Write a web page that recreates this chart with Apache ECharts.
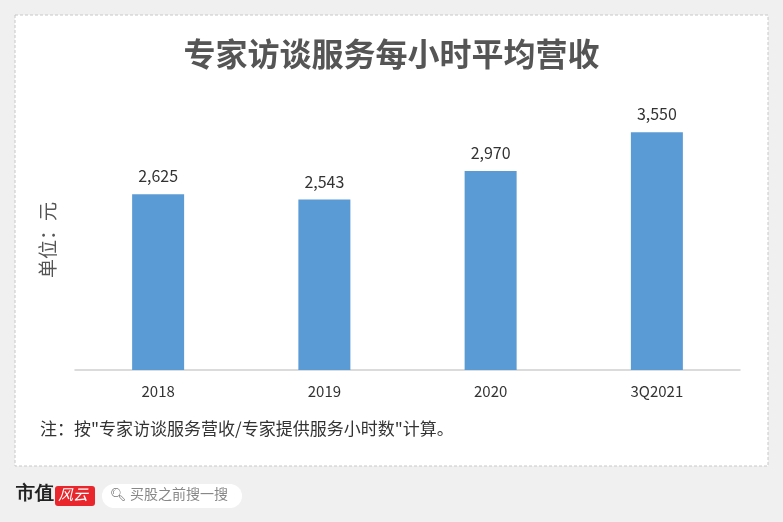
<!DOCTYPE html>
<html><head><meta charset="utf-8">
<script src="https://cdn.jsdelivr.net/npm/echarts@6/dist/echarts.min.js"></script>
<style>html,body{margin:0;padding:0;background:#f0f0f0}#c{width:783px;height:522px}</style>
</head><body><div id="c"></div>
<script>
const categories = ['2018','2019','2020','3Q2021'];
const values = [2625,2543,2970,3550];
const chart = echarts.init(document.getElementById('c'));
const F = '"Noto Sans CJK SC","Noto Sans",sans-serif';
chart.setOption({
  backgroundColor:'#f0f0f0',
  animation:false,
  title:{text:'专家访谈服务每小时平均营收',left:'center',top:33,textStyle:{fontFamily:F,fontSize:32,fontWeight:'bold',color:'#555'}},
  graphic:[
    {type:'rect',z:-1,shape:{x:15,y:15,width:753,height:451},style:{fill:'#fff',stroke:'#c8c8c8',lineDash:[3,2],lineWidth:1}},
    {type:'text',x:48,y:278,rotation:Math.PI/2,style:{text:'单位：元',font:'19px '+F,fill:'#555',align:'left',verticalAlign:'middle'}},
    {type:'text',left:40,top:420,style:{text:'注：按"专家访谈服务营收/专家提供服务小时数"计算。',font:'17px '+F,fill:'#333'}},
    {type:'text',left:16,top:485,style:{text:'市值',font:'bold 19px serif',fill:'#222'}},
    {type:'rect',shape:{x:55,y:486,width:40,height:20,r:3},style:{fill:'#e8262b'}},
    {type:'text',left:58,top:487,style:{text:'风云',font:'italic 15px '+F,fill:'#fff'}},
    {type:'rect',shape:{x:102,y:484,width:140,height:24,r:12},style:{fill:'#fff'}},
    {type:'text',left:110,top:488,style:{text:'🔍︎',font:'13px '+F,fill:'#777'}},
    {type:'text',left:130,top:487,style:{text:'买股之前搜一搜',font:'14px '+F,fill:'#888'}}
  ],
  grid:{left:75,right:43,top:102,bottom:152},
  xAxis:{type:'category',data:categories,axisTick:{show:false},
    axisLine:{lineStyle:{color:'#d0d0d0',width:1.5}},
    axisLabel:{color:'#333',fontSize:15,margin:14,fontFamily:F}},
  yAxis:{type:'value',min:0,max:4000,axisLine:{show:false},axisTick:{show:false},axisLabel:{show:false},splitLine:{show:false}},
  series:[{type:'bar',data:values,barWidth:52,itemStyle:{color:'#5b9bd5'},
    label:{show:true,position:'top',distance:10,fontSize:16,color:'#333',fontFamily:F,formatter:p=>p.value.toLocaleString('en-US')}}]
});
</script></body></html>
